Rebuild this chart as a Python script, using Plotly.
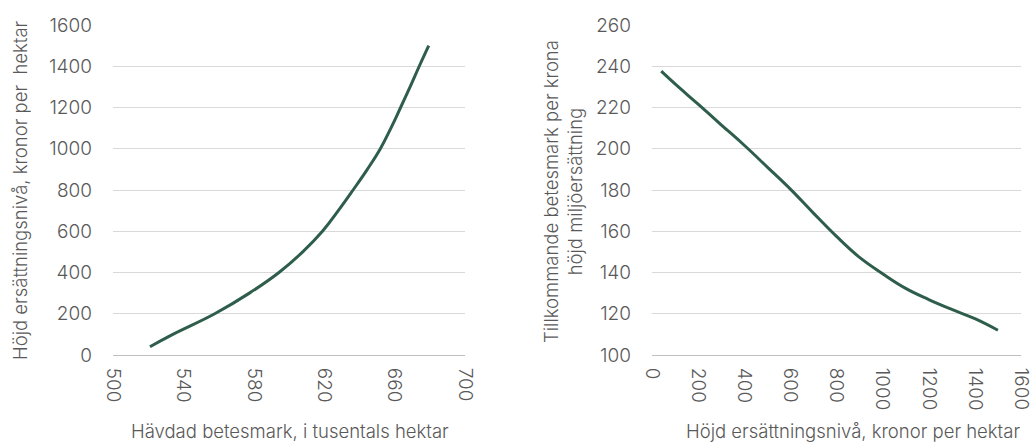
import plotly.graph_objects as go
from plotly.subplots import make_subplots

# Compensation levels (kronor per hektar)
comp_levels = [40, 100, 200, 300, 400, 500, 600, 700, 800, 900, 1000, 1100, 1200, 1300, 1400, 1500]
# Left chart: claimed pasture (thousand hectares) at each level
pasture_kha = [521, 534, 557.8, 577.5, 594.3, 607.8, 619, 628, 636.4, 644.5, 651.9, 657.9, 663.4, 668.8, 674.0, 679.4]
# Right chart: additional pasture per krona of raised compensation
extra_per_krona = [237.6, 231.4, 221.6, 211.6, 201.7, 191.1, 180.4, 168.8, 157.5, 147.3, 139.4, 132.3, 126.9, 122.1, 117.6, 112]

left_xticks = [500, 540, 580, 620, 660, 700]
left_yticks = [0, 200, 400, 600, 800, 1000, 1200, 1400, 1600]
right_xticks = [0, 200, 400, 600, 800, 1000, 1200, 1400, 1600]
right_yticks = [100, 120, 140, 160, 180, 200, 220, 240, 260]

line_color = "#2e5e4b"
text_color = "#595959"
grid_color = "#d9d9d9"
font_family = "Inter, Lato, sans-serif"

fig = make_subplots(rows=1, cols=2)

fig.add_trace(go.Scatter(x=pasture_kha, y=comp_levels, mode="lines",
                         line=dict(color=line_color, width=3, shape="spline", smoothing=1.2),
                         showlegend=False, hoverinfo="skip"), row=1, col=1)
fig.add_trace(go.Scatter(x=comp_levels, y=extra_per_krona, mode="lines",
                         line=dict(color=line_color, width=3, shape="spline", smoothing=1.2),
                         showlegend=False, hoverinfo="skip"), row=1, col=2)

tickfont = dict(family=font_family, size=19, color=text_color, weight=300)
common_x = dict(showgrid=False, zeroline=False, showline=True, linecolor="#bfbfbf", linewidth=1,
                tickangle=90, tickfont=tickfont, ticks="", ticklabelstandoff=8, automargin=False,
                ticklabeloverflow="allow")
common_y = dict(showgrid=True, gridcolor=grid_color, gridwidth=1, zeroline=False, showline=False,
                tickfont=tickfont, ticks="", ticklabelstandoff=20, automargin=False)

fig.update_xaxes(domain=[113/1033, 465/1033], range=[500, 700], tickvals=left_xticks,
                 ticktext=[str(v) for v in left_xticks], **common_x, row=1, col=1)
fig.update_yaxes(domain=[88/443, 418/443], range=[0, 1600], tickvals=left_yticks,
                 ticktext=[str(v) for v in left_yticks], **common_y, row=1, col=1)
fig.update_xaxes(domain=[652/1033, 1021/1033], range=[0, 1600], tickvals=right_xticks,
                 ticktext=[str(v) for v in right_xticks], **common_x, row=1, col=2)
fig.update_yaxes(domain=[88/443, 418/443], range=[100, 260], tickvals=right_yticks,
                 ticktext=[str(v) for v in right_yticks], **common_y, row=1, col=2)

titlefont = dict(family=font_family, size=18.5, color=text_color, weight=300)
annotations = [
    dict(text="Hävdad betesmark, i tusentals hektar", x=290/1033, y=(443-431)/443,
         xref="paper", yref="paper", showarrow=False, font=titlefont, xanchor="center", yanchor="middle"),
    dict(text="Höjd ersättningsnivå, kronor per hektar", x=853/1033, y=(443-431)/443,
         xref="paper", yref="paper", showarrow=False, font=titlefont, xanchor="center", yanchor="middle"),
    dict(text="Höjd ersättningsnivå, kronor per  hektar", x=20/1033, y=(443-190)/443,
         xref="paper", yref="paper", showarrow=False, font=titlefont, textangle=-90,
         xanchor="center", yanchor="middle"),
    dict(text="Tillkommande betesmark per krona<br>höjd miljöersättning", x=563/1033, y=(443-192)/443,
         xref="paper", yref="paper", showarrow=False, font=titlefont, textangle=-90,
         xanchor="center", yanchor="middle"),
]

fig.update_layout(width=1033, height=443, margin=dict(l=0, r=0, t=0, b=0),
                  paper_bgcolor="white", plot_bgcolor="white", annotations=annotations,
                  font=dict(family=font_family, color=text_color), hovermode=False)

fig.write_html("out.html", config={"displayModeBar": False},
               post_script="document.body.style.margin='0';document.body.style.overflow='hidden';")
